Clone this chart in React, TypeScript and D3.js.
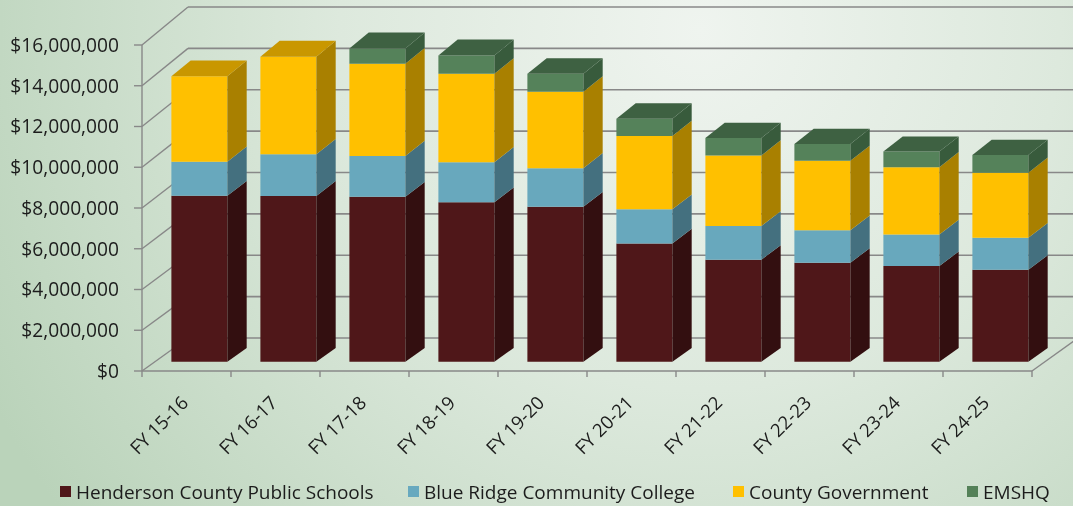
import React from "react";
import * as d3 from "d3";

const categories = ["FY 15-16", "FY 16-17", "FY 17-18", "FY 18-19", "FY 19-20", "FY 20-21", "FY 21-22", "FY 22-23", "FY 23-24", "FY 24-25"];
const schools = [8.11, 8.10, 8.06, 7.79, 7.57, 5.78, 4.99, 4.84, 4.68, 4.50].map((v) => v * 1e6);
const college = [1.67, 2.04, 2.00, 1.96, 1.89, 1.67, 1.64, 1.59, 1.54, 1.56].map((v) => v * 1e6);
const county = [4.17, 4.77, 4.50, 4.32, 3.73, 3.58, 3.45, 3.39, 3.29, 3.18].map((v) => v * 1e6);
const emshq = [0, 0, 0.75, 0.90, 0.88, 0.85, 0.85, 0.82, 0.76, 0.87].map((v) => v * 1e6);
const seriesNames = ["Henderson County Public Schools", "Blue Ridge Community College", "County Government", "EMSHQ"];
const yTicks = [0, 2e6, 4e6, 6e6, 8e6, 10e6, 12e6, 14e6, 16e6];

const W = 1073;
const H = 506;
const palette = [
  { front: "#4f1719", side: "#330f10", top: "#3c1213", legend: "#4f1719" },
  { front: "#68a8bd", side: "#44707f", top: "#4f8496", legend: "#68a9bf" },
  { front: "#ffc000", side: "#a98000", top: "#c99700", legend: "#ffc000" },
  { front: "#55825a", side: "#385b3c", top: "#3e6142", legend: "#548158" },
];
const legendX = [60, 408, 733, 967];

export default function App() {
  const x = d3
    .scaleBand<string>()
    .domain(categories)
    .range([142, 1032])
    .paddingInner(0.371)
    .paddingOuter(0.1855);
  const yFront = d3.scaleLinear().domain([0, 16e6]).range([371, 45]);
  const yBack = d3.scaleLinear().domain([0, 16e6]).range([338, 7]);
  const DX = 46;
  const proj = (px: number, v: number, t: number): [number, number] => [
    px + DX * t,
    (1 - t) * yFront(v) + t * yBack(v),
  ];
  const pts = (arr: [number, number][]) => arr.map((p) => p.join(",")).join(" ");
  const t0 = 0.28;
  const t1 = 0.7;

  const stack = d3
    .stack<number>()
    .keys([0, 1, 2, 3] as any)
    .value((i: number, k: any) => [schools, college, county, emshq][k][i]);
  const stacked = stack(d3.range(categories.length));

  const fmt = (v: number) => "$" + d3.format(",")(v);
  const gridStroke = "#888888";
  const x0 = 142;
  const x1 = 1032;

  return (
    <svg
      width={W}
      height={H}
      style={{ position: "fixed", left: 0, top: 0, display: "block" }}
      fontFamily="'Open Sans', sans-serif"
    >
      <defs>
        <radialGradient id="bg" gradientUnits="userSpaceOnUse" cx={700} cy={30} r={800}>
          <stop offset="0" stopColor="#eff4ef" />
          <stop offset="0.45" stopColor="#dde9dd" />
          <stop offset="1" stopColor="#bad3ba" />
        </radialGradient>
      </defs>
      <rect x={0} y={0} width={W} height={H} fill="url(#bg)" />

      {/* back wall gridlines */}
      {yTicks.map((v) => {
        const a = proj(x0, v, 1);
        const b = proj(x1 + 10, v, 1);
        return <line key={"bg" + v} x1={a[0]} y1={a[1]} x2={b[0]} y2={b[1]} stroke={gridStroke} strokeWidth={1.6} />;
      })}
      {/* side wall diagonals */}
      {yTicks.map((v) => {
        const a = proj(x0, v, 0);
        const b = proj(x0, v, 1);
        return <line key={"sd" + v} x1={a[0]} y1={a[1]} x2={b[0]} y2={b[1]} stroke={gridStroke} strokeWidth={1.4} />;
      })}
      {/* floor right edge */}
      {(() => {
        const a = proj(x1, 0, 0);
        const b = proj(x1, 0, 1);
        return <line x1={a[0]} y1={a[1]} x2={b[0]} y2={b[1]} stroke={gridStroke} strokeWidth={1.4} />;
      })()}
      {/* axes */}
      <line x1={x0} y1={yFront(0)} x2={x1} y2={yFront(0)} stroke={gridStroke} strokeWidth={1.4} />
      <line x1={x0} y1={yFront(0)} x2={x0} y2={yFront(16e6)} stroke={gridStroke} strokeWidth={1.4} />
      {yTicks.map((v) => (
        <g key={"yt" + v}>
          <line x1={x0 - 8} x2={x0} y1={yFront(v)} y2={yFront(v)} stroke={gridStroke} strokeWidth={1.4} />
          <text x={119} y={yFront(v)} dy="0.36em" textAnchor="end" fontSize={19.2} fill="#1c1c1c">
            {fmt(v)}
          </text>
        </g>
      ))}
      {d3.range(categories.length + 1).map((i) => {
        const px = x0 + x.step() * i;
        return <line key={"xt" + i} x1={px} x2={px} y1={yFront(0)} y2={yFront(0) + 6} stroke={gridStroke} strokeWidth={1.4} />;
      })}

      {/* bars */}
      {categories.map((c, i) => {
        const bx0 = x(c) as number;
        const bx1 = bx0 + x.bandwidth();
        const segs = stacked
          .map((s, k) => ({ k, v0: s[i][0], v1: s[i][1] }))
          .filter((s) => s.v1 - s.v0 > 0);
        return (
          <g key={c}>
            {segs.map((s, j) => {
              const col = palette[s.k];
              const front = [proj(bx0, s.v0, t0), proj(bx1, s.v0, t0), proj(bx1, s.v1, t0), proj(bx0, s.v1, t0)];
              const side = [proj(bx1, s.v0, t0), proj(bx1, s.v0, t1), proj(bx1, s.v1, t1), proj(bx1, s.v1, t0)];
              const top = [proj(bx0, s.v1, t0), proj(bx1, s.v1, t0), proj(bx1, s.v1, t1), proj(bx0, s.v1, t1)];
              return (
                <g key={s.k}>
                  <polygon points={pts(front)} fill={col.front} />
                  <polygon points={pts(side)} fill={col.side} />
                  {j === segs.length - 1 && <polygon points={pts(top)} fill={col.top} />}
                </g>
              );
            })}
          </g>
        );
      })}

      {/* category labels */}
      {categories.map((c) => {
        const cx = (x(c) as number) + x.bandwidth() / 2 + 3;
        const cy = 404;
        return (
          <text key={"lab" + c} x={cx} y={cy} textAnchor="end" fontSize={18.5} fill="#1c1c1c" transform={`rotate(-45 ${cx} ${cy})`}>
            {c}
          </text>
        );
      })}

      {/* legend */}
      {seriesNames.map((n, k) => (
        <g key={n}>
          <rect x={legendX[k]} y={486} width={11} height={11} fill={palette[k].legend} />
          <text x={legendX[k] + 16} y={498.5} fontSize={19} fill="#1c1c1c">
            {n}
          </text>
        </g>
      ))}
    </svg>
  );
}
